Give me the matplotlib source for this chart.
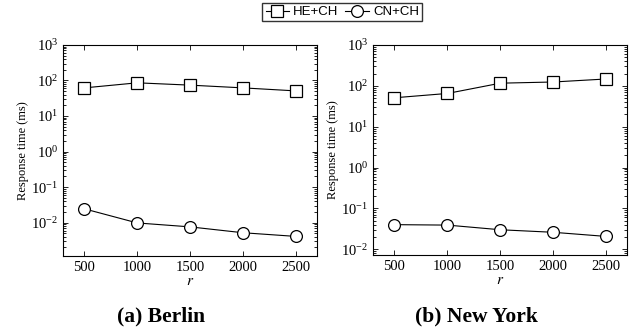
import numpy as np
import matplotlib
matplotlib.use("Agg")
import matplotlib.pyplot as plt
from matplotlib.ticker import LogLocator, NullFormatter

plt.rcParams["font.family"] = ["Liberation Serif", "DejaVu Serif"]
plt.rcParams["mathtext.fontset"] = "stix"

r = [500, 1000, 1500, 2000, 2500]

# Berlin
berlin_he = [62, 86, 74, 62, 51]
berlin_cn = [0.0244, 0.0098, 0.0076, 0.0052, 0.0041]

# New York
ny_he = [51, 65, 116, 124, 147]
ny_cn = [0.040, 0.039, 0.030, 0.026, 0.0206]

captions = ["(a) Berlin", "(b) New York"]
caption_x = [0.252, 0.744]
ylims = [(1.17e-3, 1e3), (7.2e-3, 1e3)]

fig = plt.figure(figsize=(6.41, 3.33), dpi=100)
ax1 = fig.add_axes([0.0988, 0.232, 0.3953, 0.633])
ax2 = fig.add_axes([0.5824, 0.234, 0.3963, 0.631])

for ax, he, cn, cap, cx, yl in zip([ax1, ax2], [berlin_he, ny_he], [berlin_cn, ny_cn], captions, caption_x, ylims):
    ax.plot(r, he, color="black", lw=0.8, marker="s", ms=8, mfc="white", mec="black", mew=0.9, label="HE+CH")
    ax.plot(r, cn, color="black", lw=0.8, marker="o", ms=8.5, mfc="white", mec="black", mew=0.9, label="CN+CH")
    ax.set_yscale("log")
    ax.set_ylim(*yl)
    ax.set_xlim(300, 2700)
    ax.set_xticks(r)
    ax.yaxis.set_major_locator(LogLocator(base=10, numticks=10))
    ax.yaxis.set_minor_locator(LogLocator(base=10, subs=np.arange(2, 10), numticks=20))
    ax.yaxis.set_minor_formatter(NullFormatter())
    ax.tick_params(which="both", direction="in", top=True, right=True, labelsize=10.5, width=0.6)
    ax.tick_params(which="major", length=3.5)
    ax.tick_params(which="minor", length=2)
    ax.tick_params(axis="x", which="minor", top=False, bottom=False)
    for s in ax.spines.values():
        s.set_linewidth(0.8)
    ax.set_ylabel("Response time (ms)", fontsize=9, labelpad=2)
    ax.set_xlabel("$r$", fontsize=11, labelpad=1)
    fig.text(cx, 0.05, cap, ha="center", va="center", fontsize=15.5, fontweight="bold")

h, l = ax1.get_legend_handles_labels()
fig.legend(h, l, loc="upper center", bbox_to_anchor=(0.534, 1.0), ncol=2, frameon=True, fancybox=False,
           edgecolor="black", prop={"family": "Liberation Sans", "size": 9.5}, handlelength=1.8,
           handletextpad=0.3, columnspacing=0.5, borderpad=0.25, borderaxespad=0.2)
fig.savefig("out.png", dpi=100)
